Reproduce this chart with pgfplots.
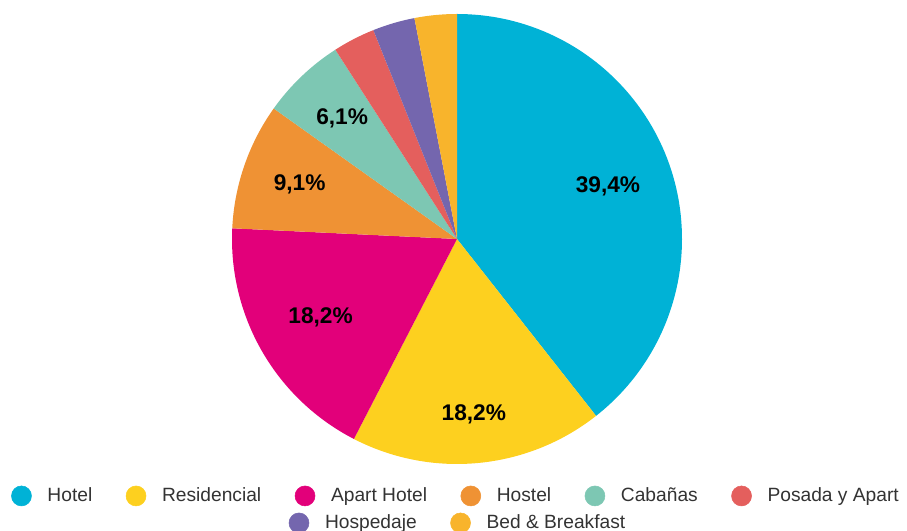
\documentclass[border=0pt]{standalone}
\usepackage{pgfplots}
\pgfplotsset{compat=1.18}
\usepackage{pgfplotstable}
\usepackage{fontspec}
\setmainfont{Liberation Sans}
\definecolor{cHotel}{HTML}{00B2D6}
\definecolor{cResid}{HTML}{FDD01F}
\definecolor{cApart}{HTML}{E2007A}
\definecolor{cHostel}{HTML}{EF9234}
\definecolor{cCaban}{HTML}{7DC7B3}
\definecolor{cPosada}{HTML}{E45F5D}
\definecolor{cHosped}{HTML}{7466AE}
\definecolor{cBnB}{HTML}{F8B42C}
\definecolor{txtgray}{HTML}{333333}

% value = number of establishments; lr = label radius (fraction of R)
\pgfplotstableread{
value color lr
13 cHotel 0.71
6 cResid 0.785
6 cApart 0.70
3 cHostel 0.74
2 cCaban 0.74
1 cPosada 0.70
1 cHosped 0.70
1 cBnB 0.70
}\piedata

\tikzset{pielabel/.style={font=\fontsize{17}{20}\selectfont\bfseries, text=black, inner sep=0pt}}

\pgfplotsset{
  legrow/.style={
    legend style={draw=none, fill=none, anchor=center,
      font=\fontsize{14.4}{16}\selectfont, text=txtgray,
      nodes={inner sep=0pt},
      /tikz/every even column/.append style={column sep=25.1pt}},
    legend cell align=left,
    legend image code/.code={\fill[##1] (0pt,0pt) circle (7.5pt); \path[draw=none,fill=none] (-7.5pt,0pt) -- (19.5pt,0pt);},
  },
  pieaxis/.style={
    at={(342.75pt,219pt)}, anchor=center,
    x=168.75pt, y=168.75pt,
    xmin=-1, xmax=1, ymin=-1, ymax=1,
    hide axis, clip=false,
  }
}

\begin{document}
\begin{tikzpicture}
\useasboundingbox (0pt,0pt) rectangle (680.25pt,398.25pt);
\begin{axis}[pieaxis, legrow, legend columns=6,
  legend style={at={(0.4956,-0.071)}}]
  \pgfplotstablegetrowsof{\piedata}
  \pgfmathtruncatemacro\N{\pgfplotsretval-1}
  \def\total{0}
  \pgfplotsforeachungrouped \i in {0,...,\N}{%
    \pgfplotstablegetelem{\i}{value}\of\piedata
    \pgfmathsetmacro\total{\total+\pgfplotsretval}%
  }
  \def\cum{0}
  \pgfplotsforeachungrouped \i in {0,...,\N}{%
    \pgfplotstablegetelem{\i}{value}\of\piedata \let\wval\pgfplotsretval
    \pgfplotstablegetelem{\i}{color}\of\piedata \let\wcol\pgfplotsretval
    \pgfplotstablegetelem{\i}{lr}\of\piedata \let\wlr\pgfplotsretval
    \pgfmathsetmacro\aS{90-360*\cum/\total}%
    \pgfmathsetmacro\aE{90-360*(\cum+\wval)/\total}%
    \pgfmathsetmacro\aM{(\aS+\aE)/2}%
    \pgfmathsetmacro\pct{100*\wval/\total}%
    \edef\temp{\noexpand\fill[\wcol] (axis cs:0,0) -- (axis cs:{cos(\aS)},{sin(\aS)}) arc[start angle=\aS, end angle=\aE, radius=168.75pt] -- cycle;}%
    \temp
    \ifdim\pct pt>5pt
      \edef\temp{\noexpand\node[pielabel] at (axis cs:{\wlr*cos(\aM)},{\wlr*sin(\aM)}) {\noexpand\pgfmathprintnumber[fixed,precision=1,fixed zerofill,use comma,assume math mode=true]{\pct}\noexpand\%};}%
      \temp
    \fi
    \pgfmathsetmacro\cum{\cum+\wval}%
  }
  \addlegendimage{cHotel}
  \addlegendimage{cResid}
  \addlegendimage{cApart}
  \addlegendimage{cHostel}
  \addlegendimage{cCaban}
  \addlegendimage{cPosada}
  \legend{Hotel, Residencial, Apart Hotel, Hostel, Cabañas, Posada y Apart}
\end{axis}
\begin{axis}[pieaxis, legrow, legend columns=2,
  legend style={at={(0.5,-0.131)}}]
  \addlegendimage{cHosped}
  \addlegendimage{cBnB}
  \legend{Hospedaje, Bed \& Breakfast}
\end{axis}
\end{tikzpicture}
\end{document}
